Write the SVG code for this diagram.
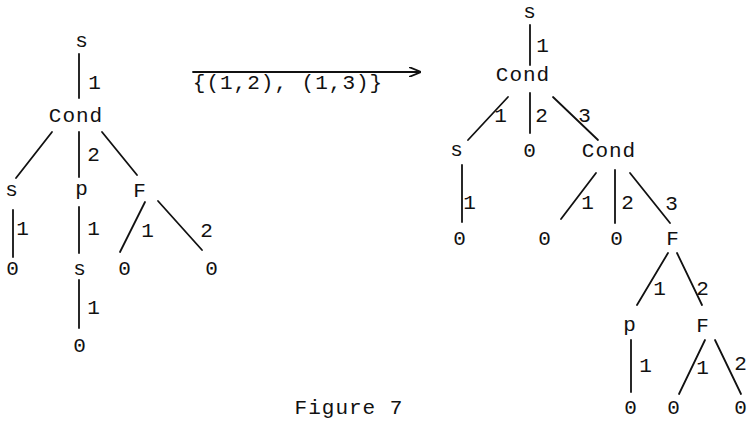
<svg xmlns="http://www.w3.org/2000/svg" width="750" height="421" viewBox="0 0 750 421">
<defs>
<style>
text{font-family:"Liberation Mono","DejaVu Sans Mono",monospace;font-size:21px;fill:#111;text-anchor:middle;letter-spacing:1px}
.l{stroke:#111;stroke-width:1.8;fill:none;stroke-linecap:round}
</style>
<marker id="ah" viewBox="0 0 12 10" refX="11" refY="5" markerWidth="12" markerHeight="10" markerUnits="userSpaceOnUse" orient="auto">
<path d="M0,0 L12,5 L0,10" fill="none" stroke="#111" stroke-width="1.8"/>
</marker>
</defs>
<rect width="750" height="421" fill="#fff"/>
<g id="connectors">
<line class="l" x1="79" y1="54" x2="79" y2="98"/>
<line class="l" x1="52" y1="132" x2="16" y2="178"/>
<line class="l" x1="79" y1="132" x2="79" y2="177"/>
<line class="l" x1="102" y1="132" x2="137" y2="175"/>
<line class="l" x1="13" y1="210" x2="13" y2="257"/>
<line class="l" x1="79" y1="207" x2="79" y2="253"/>
<line class="l" x1="145" y1="202" x2="120" y2="252"/>
<line class="l" x1="158" y1="201" x2="202" y2="250"/>
<line class="l" x1="79" y1="280" x2="79" y2="328"/>
<line class="l" x1="193" y1="72" x2="420" y2="72" marker-end="url(#ah)"/>
<line class="l" x1="530" y1="25" x2="530" y2="65"/>
<line class="l" x1="508" y1="97" x2="468" y2="140"/>
<line class="l" x1="530" y1="93" x2="530" y2="133"/>
<line class="l" x1="553" y1="97" x2="598" y2="140"/>
<line class="l" x1="462" y1="165" x2="462" y2="222"/>
<line class="l" x1="596" y1="173" x2="561" y2="219"/>
<line class="l" x1="615" y1="170" x2="615" y2="223"/>
<line class="l" x1="630" y1="173" x2="670" y2="223"/>
<line class="l" x1="668" y1="253" x2="637" y2="305"/>
<line class="l" x1="677" y1="253" x2="702" y2="305"/>
<line class="l" x1="631" y1="340" x2="631" y2="392"/>
<line class="l" x1="705" y1="340" x2="679" y2="394"/>
<line class="l" x1="715" y1="340" x2="741" y2="394"/>
</g>
<g id="labels">
<text x="95" y="89">1</text>
<text x="94" y="161">2</text>
<text x="23" y="235">1</text>
<text x="94" y="235">1</text>
<text x="148" y="237">1</text>
<text x="207" y="237">2</text>
<text x="94" y="314">1</text>
<text x="288" y="89">{(1,2), (1,3)}</text>
<text x="543" y="52">1</text>
<text x="501" y="122">1</text>
<text x="542" y="122">2</text>
<text x="585" y="122">3</text>
<text x="470" y="209">1</text>
<text x="588" y="209">1</text>
<text x="628" y="209">2</text>
<text x="672" y="210">3</text>
<text x="660" y="295">1</text>
<text x="703" y="295">2</text>
<text x="646" y="372">1</text>
<text x="703" y="374">1</text>
<text x="741" y="370">2</text>
</g>
<g id="n-left-s"><text x="82" y="47">s</text></g>
<g id="n-left-cond"><text x="76" y="122">Cond</text></g>
<g id="n-left-s2"><text x="12" y="196">s</text></g>
<g id="n-left-p"><text x="82" y="195">p</text></g>
<g id="n-left-F"><text x="140" y="197">F</text></g>
<g id="n-left-0a"><text x="13" y="275">0</text></g>
<g id="n-left-s3"><text x="80" y="275">s</text></g>
<g id="n-left-0b"><text x="125" y="275">0</text></g>
<g id="n-left-0c"><text x="212" y="275">0</text></g>
<g id="n-left-0d"><text x="80" y="352">0</text></g>
<g id="n-right-s"><text x="530" y="18">s</text></g>
<g id="n-right-cond"><text x="523" y="81">Cond</text></g>
<g id="n-right-s2"><text x="457" y="156">s</text></g>
<g id="n-right-0a"><text x="530" y="157">0</text></g>
<g id="n-right-cond2"><text x="609" y="157">Cond</text></g>
<g id="n-right-0b"><text x="460" y="245">0</text></g>
<g id="n-right-0c"><text x="545" y="245">0</text></g>
<g id="n-right-0d"><text x="617" y="245">0</text></g>
<g id="n-right-F"><text x="673" y="245">F</text></g>
<g id="n-right-p"><text x="630" y="331">p</text></g>
<g id="n-right-F2"><text x="703" y="332">F</text></g>
<g id="n-right-0e"><text x="631" y="414">0</text></g>
<g id="n-right-0f"><text x="674" y="414">0</text></g>
<g id="n-right-0g"><text x="741" y="414">0</text></g>
<g id="caption"><text x="349" y="414">Figure 7</text></g>
</svg>
